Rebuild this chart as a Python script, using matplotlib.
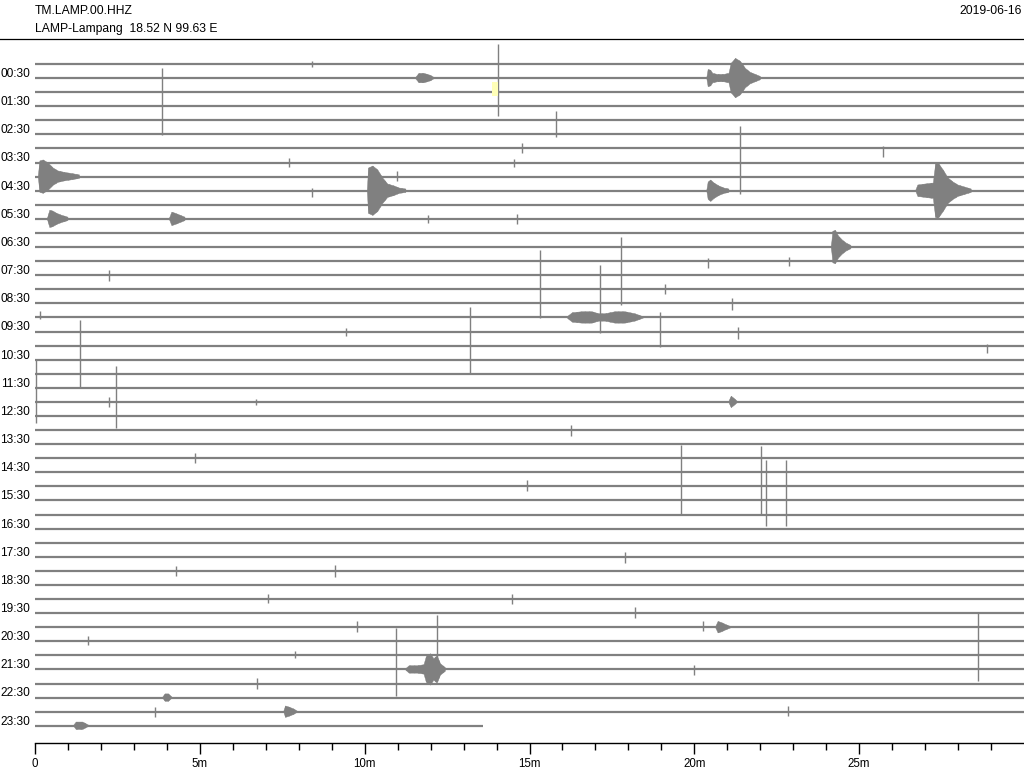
import matplotlib
matplotlib.use("Agg")
import matplotlib.pyplot as plt
import numpy as np

# ---------------- data ----------------
station = "TM.LAMP.00.HHZ"
location = "LAMP-Lampang  18.52 N 99.63 E"
date_label = "2019-06-16"

n_rows = 48            # 30-minute lines, 00:00 ... 23:30
row_minutes = 30
last_row_end = 13.6    # minutes of data present in the last line

label_rows = list(range(1, 48, 2))
row_labels = ["%02d:30" % h for h in range(24)]

x_ticks = [0, 5, 10, 15, 20, 25]
x_tick_labels = ["0", "5m", "10m", "15m", "20m", "25m"]

counts_per_row = 14.08  # amplitude units per line spacing

# isolated spikes: line, minute, amplitude up, amplitude down
spike_rows = [3, 2, 7, 9, 8, 21, 19, 23, 24, 24, 24, 15, 18, 28, 36, 36, 38, 40,
              41, 42, 44, 46, 4, 6, 7, 11, 11, 16, 15, 17, 16, 20, 19, 7, 6, 14,
              14, 17, 19, 20, 26, 30, 30, 35, 38, 39, 43, 42, 43, 30, 31, 31, 40,
              42, 46, 0]
spike_min = [3.86, 14.05, 7.70, 8.39, 10.97, 1.36, 9.43, 0.02, 2.47, 2.25, 6.70,
             2.25, 0.15, 4.85, 4.28, 9.10, 7.08, 9.78, 1.62, 7.89, 6.74, 3.64,
             15.80, 14.78, 14.53, 11.93, 14.63, 15.33, 17.78, 17.15, 19.12, 13.20,
             18.96, 21.38, 25.73, 20.40, 22.87, 21.15, 21.33, 28.87, 16.26, 19.61,
             14.91, 17.90, 14.46, 18.20, 10.95, 12.20, 20.00, 22.03, 22.18, 22.79,
             20.27, 28.61, 22.85, 8.40]
spike_up = [38, 48, 5, 3, 6, 40, 4, 28, 36, 5, 3, 5, 6, 5, 5, 6, 5, 6,
            5, 4, 6, 5, 9, 5, 4, 4, 5, 39, 38, 38, 5, 39, 20, 37, 2, 3,
            4, 5, 5, 2, 5, 41, 6, 5, 5, 6, 41, 40, 4, 40, 40, 40, 6,
            42, 6, 3]
spike_down = [29, 24, 4, 6, 4, 27, 4, 35, 26, 5, 3, 6, 2, 5, 5, 6, 4, 5,
              4, 3, 5, 5, 17, 5, 4, 4, 5, 29, 30, 30, 5, 28, 15, 31, 9, 7,
              5, 7, 7, 7, 6, 29, 5, 6, 5, 5, 27, 26, 6, 29, 26, 26, 4,
              26, 4, 3]

# earthquakes / tremor: line, minutes of envelope points, envelope amplitudes
quake_rows = [1, 8, 9, 9, 9, 11, 11, 13, 18, 43, 46, 40, 1, 24, 45, 47]
quake_times = [
    [20.38, 20.42, 20.50, 20.56, 20.70, 20.90, 21.05, 21.12, 21.25, 21.40, 21.55, 21.70, 21.85, 22.00],
    [0.10, 0.15, 0.25, 0.40, 0.55, 0.70, 0.90, 1.10, 1.35],
    [10.08, 10.12, 10.25, 10.40, 10.55, 10.70, 10.90, 11.05, 11.25],
    [20.38, 20.42, 20.50, 20.60, 20.75, 20.90, 21.05],
    [26.72, 26.78, 27.00, 27.25, 27.32, 27.40, 27.55, 27.70, 27.85, 28.00, 28.20, 28.40],
    [0.38, 0.45, 0.55, 0.65, 0.80, 1.00],
    [4.08, 4.15, 4.25, 4.40, 4.55],
    [24.16, 24.20, 24.28, 24.38, 24.50, 24.62, 24.75],
    [16.15, 16.30, 16.60, 16.90, 17.10, 17.30, 17.60, 17.90, 18.20, 18.45],
    [11.25, 11.35, 11.60, 11.80, 11.87, 12.00, 12.10, 12.20, 12.30, 12.45],
    [7.55, 7.60, 7.70, 7.85, 7.95],
    [20.65, 20.72, 20.82, 20.95, 21.10],
    [11.55, 11.65, 11.80, 12.00, 12.10],
    [21.05, 21.12, 21.20, 21.30],
    [3.88, 3.95, 4.05, 4.15],
    [1.18, 1.25, 1.45, 1.62],
]
quake_amps = [
    [0, 8, 7, 4, 3, 3, 4, 14, 19, 16, 9, 5, 3, 1],
    [0, 15, 16, 13, 8, 5, 3.5, 2.5, 1],
    [0, 22, 24, 20, 12, 6, 4, 2, 1],
    [0, 8, 10, 7, 4, 2, 1],
    [0, 5, 6, 7, 26, 27, 20, 12, 8, 5, 3, 1],
    [0, 8, 7, 5, 3, 1],
    [0, 6, 5, 3, 1],
    [0, 15, 16, 10, 6, 3, 1],
    [0, 4, 5, 5, 3, 3, 5, 5, 3, 0],
    [0, 3, 3, 4, 12, 15, 10, 13, 5, 1],
    [0, 5, 4, 2, 0],
    [0, 5, 4, 2, 0],
    [0, 4, 4, 2, 0],
    [0, 5, 3, 0],
    [0, 3, 3, 0],
    [0, 3, 3, 0],
]

# highlighted (yellow) interval
highlight_row = 2
highlight_start = 13.87
highlight_end = 14.03

# ---------------- drawing ----------------
plt.rcParams["font.family"] = ["Liberation Sans", "DejaVu Sans"]
trace_color = "#808080"

W, H = 1024, 768
fig = plt.figure(figsize=(W / 100, H / 100), dpi=100)
ax = fig.add_axes([35 / W, 25 / H, 989 / W, (743 - 40) / H])

rows = np.arange(n_rows)
row_ends = np.full(n_rows, float(row_minutes))
row_ends[-1] = last_row_end
ax.hlines(rows, 0, row_ends, color=trace_color, lw=1.6, zorder=2)

for r, m, u, d in zip(spike_rows, spike_min, spike_up, spike_down):
    ax.vlines(m, r - u / counts_per_row, r + d / counts_per_row,
              color=trace_color, lw=1.0, zorder=3, clip_on=False)

for r, t, a in zip(quake_rows, quake_times, quake_amps):
    t = np.asarray(t, float)
    a = np.asarray(a, float) / counts_per_row
    ax.fill_between(t, r - a - 0.05, r + a + 0.05, facecolor=trace_color,
                    edgecolor=trace_color, hatch="||||", lw=0.3, zorder=3)

ax.fill_between([highlight_start, highlight_end], highlight_row - 0.74, highlight_row + 0.27,
                color="#ffffb8", lw=0, zorder=4)

ax.set_xlim(0, row_minutes)
ax.set_ylim((743 - 64) / 14.08, -(64 - 40) / 14.08)

ax.set_xticks(x_ticks)
ax.set_xticklabels(x_tick_labels)
ax.set_xticks([m for m in range(1, row_minutes) if m % 5], minor=True)
ax.tick_params(axis="x", which="major", length=8, width=1, pad=2.5,
               labelsize=8.3, direction="out", color="black")
ax.tick_params(axis="x", which="minor", length=5, width=1, direction="out", color="black")

ax.set_yticks([r - 0.4 for r in label_rows])
ax.set_yticklabels(row_labels)
ax.tick_params(axis="y", length=0, pad=3.4, labelsize=8.6)

for s in ("left", "right", "top"):
    ax.spines[s].set_visible(False)
ax.spines["bottom"].set_linewidth(1)

fig.text(35 / W, 1 - 14 / H, station, fontsize=8.7, va="baseline", ha="left")
fig.text(35 / W, 1 - 32 / H, location, fontsize=8.7, va="baseline", ha="left")
fig.text(1022 / W, 1 - 14 / H, date_label, fontsize=8.7, va="baseline", ha="right")
fig.add_artist(plt.Line2D([0, 1], [1 - 38.5 / H, 1 - 38.5 / H], color="black", lw=0.9,
                          transform=fig.transFigure))

fig.savefig("out.png", dpi=100)
